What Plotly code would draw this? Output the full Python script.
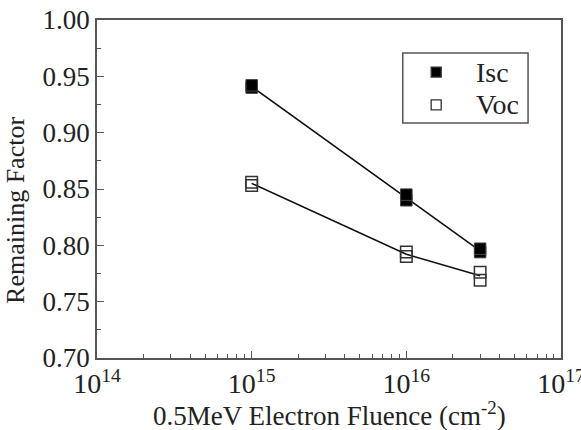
import plotly.graph_objects as go

fluence = [1e15, 1e15, 1e16, 1e16, 3e16, 3e16]
isc = [0.940, 0.942, 0.840, 0.845, 0.794, 0.797]
voc = [0.853, 0.856, 0.790, 0.794, 0.776, 0.769]

fit_x = [1e15, 1e16, 3e16]
isc_fit = [0.941, 0.842, 0.795]
voc_fit = [0.855, 0.792, 0.773]

series_names = ["Isc", "Voc"]
xtick_vals = [1e14, 1e15, 1e16, 1e17]
xtick_text = ["10<sup>14</sup>", "10<sup>15</sup>", "10<sup>16</sup>", "10<sup>17</sup>"]
xminor_vals = [m * 10 ** d for d in (14, 15, 16) for m in range(2, 10)]
ytick_vals = [0.70, 0.75, 0.80, 0.85, 0.90, 0.95, 1.00]

FONT = "Liberation Serif"
AX = "#555"
TXT = "#222"

fig = go.Figure()
fig.add_trace(go.Scatter(x=fit_x, y=isc_fit, mode="lines",
                         line=dict(color="#111", width=1.6), showlegend=False, hoverinfo="skip"))
fig.add_trace(go.Scatter(x=fit_x, y=voc_fit, mode="lines",
                         line=dict(color="#111", width=1.6), showlegend=False, hoverinfo="skip"))
fig.add_trace(go.Scatter(x=fluence, y=isc, mode="markers", name=series_names[0], showlegend=False,
                         marker=dict(symbol="square", size=11.5, color="black",
                                     line=dict(color="#444", width=1))))
fig.add_trace(go.Scatter(x=fluence, y=voc, mode="markers", name=series_names[1], showlegend=False,
                         marker=dict(symbol="square-open", size=11.5, color="#333",
                                     line=dict(color="#333", width=1.5))))

# manual legend (glyphs on an overlay axis spanning the plot area)
leg_x, leg_y = [0.731, 0.731], [0.846, 0.749]
fig.add_trace(go.Scatter(x=leg_x, y=leg_y, xaxis="x2", yaxis="y2", mode="markers",
                         showlegend=False, hoverinfo="skip",
                         marker=dict(symbol=["square", "square-open"], size=10,
                                     color=["black", "#333"], line=dict(color="#333", width=1.3))))
annotations = []
for name, yy in zip(series_names, leg_y):
    annotations.append(dict(x=0.812, y=yy, xref="paper", yref="paper", text=name, showarrow=False,
                            xanchor="left", yanchor="middle",
                            font=dict(family=FONT, size=28, color=TXT)))
annotations.append(dict(x=-0.1746, y=0.438, xref="paper", yref="paper", text="Remaining Factor",
                        textangle=-90, showarrow=False, xanchor="center", yanchor="middle",
                        font=dict(family=FONT, size=26, color=TXT)))
annotations.append(dict(x=0.502, y=-0.166, xref="paper", yref="paper",
                        text="0.5MeV Electron Fluence (cm<sup>-2</sup>)", showarrow=False,
                        xanchor="center", yanchor="middle",
                        font=dict(family=FONT, size=27, color=TXT)))

fig.update_layout(
    width=581, height=430,
    margin=dict(l=97, r=20, t=20, b=72),
    paper_bgcolor="white", plot_bgcolor="white",
    font=dict(family=FONT, size=28, color=TXT),
    showlegend=False,
    annotations=annotations,
    shapes=[dict(type="rect", xref="paper", yref="paper", x0=0.659, x1=0.929, y0=0.695, y1=0.902,
                 line=dict(color=AX, width=1.5), fillcolor="rgba(0,0,0,0)", layer="below")],
    xaxis=dict(type="log", range=[14, 17], tickvals=xtick_vals, ticktext=xtick_text,
               automargin=False, ticklabeloverflow="allow",
               ticks="inside", ticklen=7, tickcolor=AX, showgrid=False, zeroline=False,
               showline=True, linecolor=AX, linewidth=1.5, mirror=True,
               minor=dict(tickvals=xminor_vals, ticks="inside", ticklen=4, tickcolor=AX, showgrid=False),
               tickfont=dict(family=FONT, size=28, color=TXT)),
    yaxis=dict(range=[0.70, 1.00], tickvals=ytick_vals, tickformat=".2f",
               automargin=False, ticklabeloverflow="allow",
               ticks="inside", ticklen=7, tickcolor=AX, showgrid=False, zeroline=False,
               showline=True, linecolor=AX, linewidth=1.5, mirror=True,
               minor=dict(dtick=0.025, ticks="inside", ticklen=4, tickcolor=AX, showgrid=False),
               tickfont=dict(family=FONT, size=27, color=TXT)),
    xaxis2=dict(overlaying="x", range=[0, 1], visible=False, fixedrange=True),
    yaxis2=dict(overlaying="y", range=[0, 1], visible=False, fixedrange=True),
)

fig.write_html("out.html")
